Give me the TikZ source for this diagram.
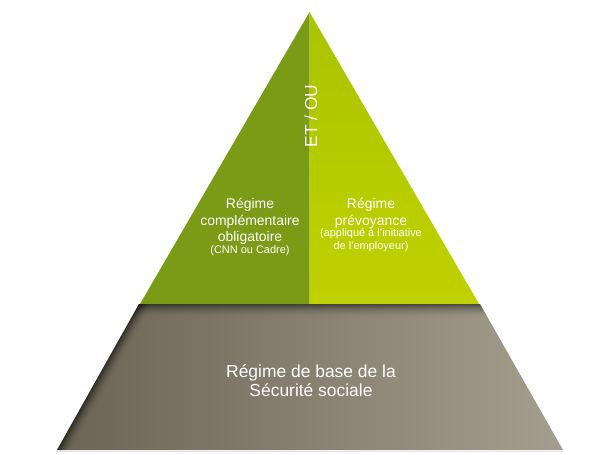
\documentclass[tikz,border=0pt]{standalone}
\usepackage{fontspec}
\setmainfont{Liberation Sans}
\definecolor{gdark}{HTML}{7A9B15}
\definecolor{glighttop}{HTML}{AAC400}
\definecolor{glightbot}{HTML}{C0D100}
\definecolor{grayL}{HTML}{6A6454}
\definecolor{grayM}{HTML}{827B69}
\definecolor{grayR}{HTML}{A39E8D}
\tikzset{
  lbl/.style={text=white, anchor=base, inner sep=0pt},
  big/.style={font=\fontsize{17.5}{20}\selectfont},
  mid/.style={font=\fontsize{14}{16}\selectfont},
  small/.style={font=\fontsize{11}{13}\selectfont},
}
\begin{document}
\begin{tikzpicture}[x=1bp,y=-1bp]
\useasboundingbox (0,0) rectangle (590,455);
% coordinates
\coordinate (apex) at (309.5,12);
\coordinate (gl) at (140,304);
\coordinate (gm) at (309.5,304);
\coordinate (gr) at (479,304);
\coordinate (bl) at (57,450);
\coordinate (br) at (563,450);
\coordinate (tl) at (139,304);
\coordinate (tr) at (480,304);
% green halves
\fill[gdark] (apex) -- (gl) -- (gm) -- cycle;
\shade[top color=glighttop, bottom color=glightbot] (apex) -- (gm) -- (gr) -- cycle;
% gray base
\shade[left color=grayL, middle color=grayM, right color=grayR] (tl) -- (tr) -- (br) -- (bl) -- cycle;
\begin{scope}
  \clip (tl) -- (tr) -- (br) -- (bl) -- cycle;
  % top shadow
  \foreach \i in {0,...,13} {
    \fill[black, opacity={0.5*(1-\i/14)^2}] (50,304+\i) rectangle (570,305+\i);
  }
  % left edge shadow
  \foreach \i in {0,...,13} {
    \fill[black, opacity={0.55*(1-\i/14)^2}] (139+\i,304) -- (140+\i,304) -- (58+\i,450) -- (57+\i,450) -- cycle;
  }
\end{scope}
\draw[black!10, line width=1bp] (57,451) -- (563,451);
% texts
\node[lbl, big, rotate=90] (etou) at (317,116) {ET / OU};
\node[lbl, mid] (l1) at (250,209) {Régime};
\node[lbl, mid] (l2) at (250,225.5) {complémentaire};
\node[lbl, mid] (l3) at (250,242) {obligatoire};
\node[lbl, small] (l4) at (250,254) {(CNN ou Cadre)};
\node[lbl, mid] (r1) at (371,209) {Régime};
\node[lbl, mid] (r2) at (371,225.5) {prévoyance};
\node[lbl, small] (r3) at (371,236.5) {(appliqué à l'initiative};
\node[lbl, small] (r4) at (371,249.5) {de l'employeur)};
\node[lbl, big] (b1) at (311,377) {Régime de base de la};
\node[lbl, big] (b2) at (311,396) {Sécurité sociale};
\end{tikzpicture}
\end{document}
